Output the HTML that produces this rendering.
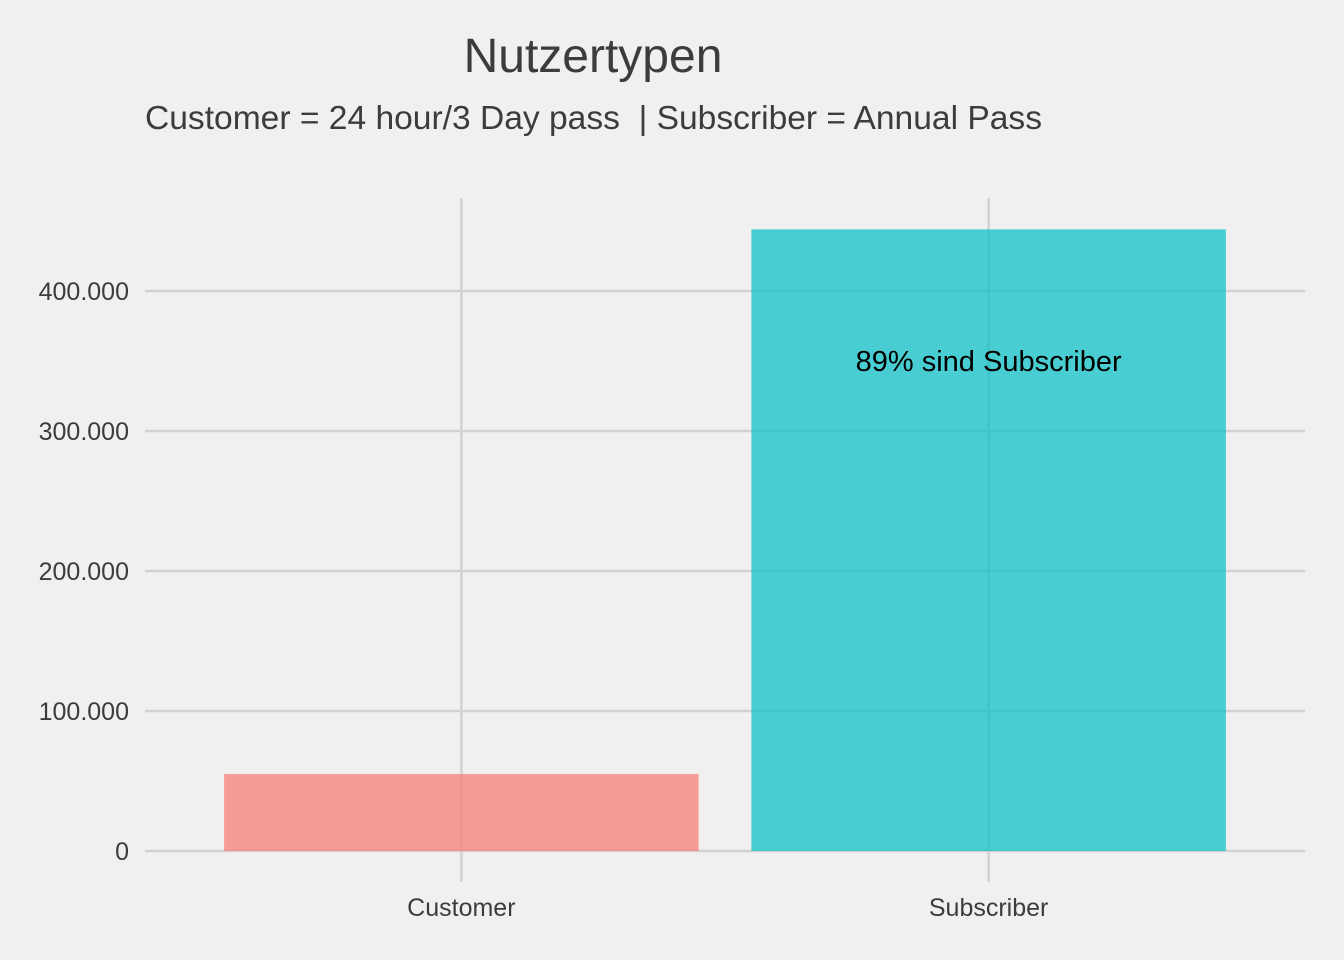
<!DOCTYPE html>
<html><head><meta charset="utf-8">
<style>
html,body{margin:0;padding:0;background:#f0f0f0;}
svg{display:block;font-family:"Liberation Sans",sans-serif;}
</style></head>
<body>
<svg id="chart" width="1344" height="960">
<rect width="1344" height="960" fill="#f0f0f0"/>
<text x="593" y="72" text-anchor="middle" font-size="48" fill="#3c3c3c">Nutzertypen</text>
<text x="145" y="129" font-size="33" fill="#3c3c3c" style="white-space:pre" textLength="897" lengthAdjust="spacingAndGlyphs">Customer = 24 hour/3 Day pass  | Subscriber = Annual Pass</text>
<g id="grid"></g>
<g id="bars"></g>
<g id="labels"></g>
</svg>
<script>
const categories = ["Customer", "Subscriber"];
const values = [55000, 444000];
const colors = ["#F8766D", "#00BFC4"];
const yTicks = [0, 100000, 200000, 300000, 400000];
const yTickLabels = ["0", "100.000", "200.000", "300.000", "400.000"];
const annotation = "89% sind Subscriber";
const annotationValue = 350000;

const ns = "http://www.w3.org/2000/svg";
const left = 145, right = 1305;
const y0 = 851, pxPer = 140 / 100000;
const y = v => y0 - v * pxPer;
const unit = (right - left) / (categories.length - 1 + 1.2);
const x = i => left + unit * (i + 0.6);
const barW = unit * 0.9;

function mk(tag, attrs, parent) {
  const el = document.createElementNS(ns, tag);
  for (const k in attrs) el.setAttribute(k, attrs[k]);
  parent.appendChild(el);
  return el;
}
const grid = document.getElementById("grid");
const bars = document.getElementById("bars");
const labels = document.getElementById("labels");

yTicks.forEach((t, i) => {
  const l = mk("line", {x1: left, x2: right, y1: y(t), y2: y(t), stroke: "#d2d2d2", "stroke-width": 2.5}, grid);
  
  
  const tx = mk("text", {x: 129, y: y(t) + 9, "text-anchor": "end", "font-size": 25, fill: "#3c3c3c"}, labels);
  tx.textContent = yTickLabels[i];
  
  
});
categories.forEach((c, i) => {
  const l = mk("line", {x1: x(i), x2: x(i), y1: 198, y2: 882, stroke: "#d2d2d2", "stroke-width": 2.5}, grid);
  
  
  const r = mk("rect", {x: x(i) - barW / 2, y: y(values[i]), width: barW, height: y0 - y(values[i]), fill: colors[i], "fill-opacity": 0.7}, bars);
  
  
  const tx = mk("text", {x: x(i), y: 916, "text-anchor": "middle", "font-size": 25, fill: "#3c3c3c"}, labels);
  tx.textContent = c;
  
  
});
const an = mk("text", {x: x(1), y: y(annotationValue) + 10, "text-anchor": "middle", "font-size": 29, fill: "#000"}, labels);
an.textContent = annotation;


</script>
</body></html>
